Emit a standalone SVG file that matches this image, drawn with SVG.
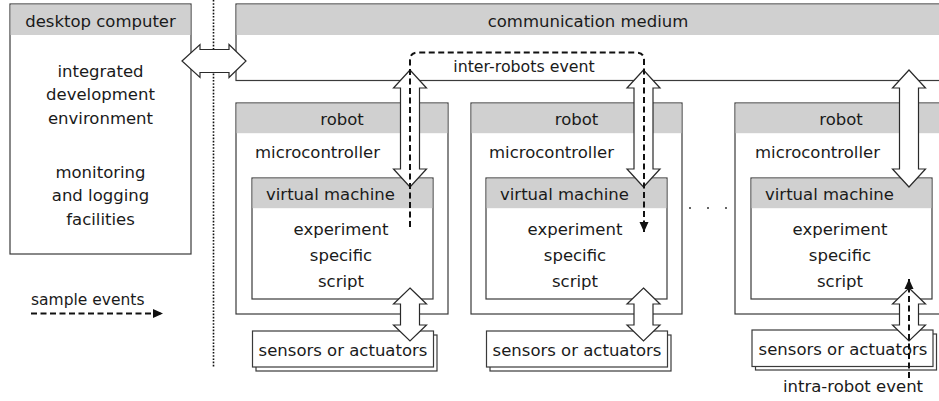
<svg xmlns="http://www.w3.org/2000/svg" width="939" height="401" viewBox="0 0 939 401">
<style>
text{font-family:"DejaVu Sans","Liberation Sans",sans-serif;font-size:16.5px;fill:#1a1a1a}
.c{text-anchor:middle}
.box{fill:#fff;stroke:#3a3a3a;stroke-width:1.2}
.hdr{fill:#d0d0d0;stroke:none}
.arr{fill:#fff;stroke:#2a2a2a;stroke-width:1.2;stroke-linejoin:miter}
.dash{fill:none;stroke:#111;stroke-width:2;stroke-dasharray:6 3.5}
.dot{fill:none;stroke:#111;stroke-width:1.6;stroke-dasharray:1.6 1.6}
</style>
<defs>
<marker id="ah" markerUnits="userSpaceOnUse" markerWidth="12" markerHeight="10" refX="10" refY="5" orient="auto">
<path d="M0,0.5 L10,5 L0,9.5 Z" fill="#111"/>
</marker>
</defs>

<g id="separator">
<line class="dot" x1="213.5" y1="0" x2="213.5" y2="368"/>
</g>

<g id="desktop">
<rect class="box" x="10" y="4" width="181" height="250"/>
<rect class="hdr" x="10.6" y="4.6" width="179.8" height="30.4"/>
<text class="c" x="100.5" y="27">desktop computer</text>
<text class="c" x="100.5" y="77">integrated</text>
<text class="c" x="100.5" y="100">development</text>
<text class="c" x="100.5" y="124">environment</text>
<text class="c" x="100.5" y="178">monitoring</text>
<text class="c" x="100.5" y="201">and logging</text>
<text class="c" x="100.5" y="225">facilities</text>
</g>

<g id="medium">
<rect class="box" x="236" y="4" width="720" height="76.5"/>
<rect class="hdr" x="236.6" y="4.6" width="719" height="30.4"/>
<text class="c" x="588" y="27">communication medium</text>
<text class="c" x="524" y="72" style="font-size:15.8px">inter-robots event</text>
</g>

<g id="robot1">
<rect class="box" x="236" y="103" width="212" height="211"/>
<rect class="hdr" x="236.6" y="103.6" width="210.8" height="29.6"/>
<text class="c" x="342" y="125">robot</text>
<text x="255" y="158">microcontroller</text>
<rect class="box" x="252" y="178" width="181" height="121"/>
<rect class="hdr" x="252.6" y="178.6" width="179.8" height="29.6"/>
<text x="266" y="200">virtual machine</text>
<text class="c" x="341" y="235">experiment</text>
<text class="c" x="341" y="261">specific</text>
<text class="c" x="341" y="287">script</text>
</g>
<g id="sensors1">
<rect class="box" x="256" y="335" width="181" height="36"/>
<rect class="box" x="252.5" y="331" width="181" height="36"/>
<text class="c" x="343" y="356">sensors or actuators</text>
</g>

<g id="robot2">
<rect class="box" x="471" y="103" width="211" height="211"/>
<rect class="hdr" x="471.6" y="103.6" width="209.8" height="29.6"/>
<text class="c" x="576.5" y="125">robot</text>
<text x="489" y="158">microcontroller</text>
<rect class="box" x="486" y="178" width="181" height="121"/>
<rect class="hdr" x="486.6" y="178.6" width="179.8" height="29.6"/>
<text x="500" y="200">virtual machine</text>
<text class="c" x="575" y="235">experiment</text>
<text class="c" x="575" y="261">specific</text>
<text class="c" x="575" y="287">script</text>
</g>
<g id="sensors2">
<rect class="box" x="490" y="335" width="181" height="36"/>
<rect class="box" x="486.5" y="331" width="181" height="36"/>
<text class="c" x="577" y="356">sensors or actuators</text>
</g>

<g id="ellipsis">
<circle cx="690" cy="208" r="1" fill="#333"/>
<circle cx="708" cy="208" r="1" fill="#333"/>
<circle cx="726" cy="208" r="1" fill="#333"/>
</g>

<g id="robot3">
<rect class="box" x="735" y="103" width="212" height="211"/>
<rect class="hdr" x="735.6" y="103.6" width="210.8" height="29.6"/>
<text class="c" x="841" y="125">robot</text>
<text x="755" y="158">microcontroller</text>
<rect class="box" x="751" y="178" width="181" height="121"/>
<rect class="hdr" x="751.6" y="178.6" width="179.8" height="29.6"/>
<text x="765" y="200">virtual machine</text>
<text class="c" x="840" y="235">experiment</text>
<text class="c" x="840" y="261">specific</text>
<text class="c" x="840" y="287">script</text>
</g>
<g id="sensors3">
<rect class="box" x="755.5" y="334" width="181" height="36"/>
<rect class="box" x="752" y="330" width="181" height="36.5"/>
<text class="c" x="843" y="355">sensors or actuators</text>
</g>

<g id="legend">
<text x="31" y="305" style="font-size:15.5px">sample events</text>
<text class="c" x="853" y="392">intra-robot event</text>
</g>

<g id="connectors">
<path class="arr" d="M182,61 L200,44.5 L200,49.5 L229,49.5 L229,44.5 L246,61 L229,77.5 L229,72.5 L200,72.5 L200,77.5 Z"/>
<path class="arr" d="M410,70 L426.5,88 L419.5,88 L419.5,169 L426.5,169 L410,187 L393.5,169 L400.5,169 L400.5,88 L393.5,88 Z"/>
<path class="arr" d="M643.5,70 L660,88 L653,88 L653,169 L660,169 L643.5,187 L627,169 L634,169 L634,88 L627,88 Z"/>
<path class="arr" d="M909,70 L925.5,88 L918.5,88 L918.5,169 L925.5,169 L909,187 L892.5,169 L899.5,169 L899.5,88 L892.5,88 Z"/>
<path class="arr" d="M410,288 L426.5,304 L419.5,304 L419.5,325 L426.5,325 L410,341 L393.5,325 L400.5,325 L400.5,304 L393.5,304 Z"/>
<path class="arr" d="M643.5,288 L660,304 L653,304 L653,325 L660,325 L643.5,341 L627,325 L634,325 L634,304 L627,304 Z"/>
<path class="arr" d="M909,288 L925.5,304 L918.5,304 L918.5,325 L925.5,325 L909,341 L892.5,325 L899.5,325 L899.5,304 L892.5,304 Z"/>
<path class="dash" d="M410,227 V60 Q410,52.5 418,52.5 H636 Q644,52.5 644,60 V232" marker-end="url(#ah)"/>
<path class="dash" d="M909,378 V279" marker-end="url(#ah)"/>
<path class="dash" d="M31,313.5 H163" marker-end="url(#ah)"/>
</g>
</svg>
